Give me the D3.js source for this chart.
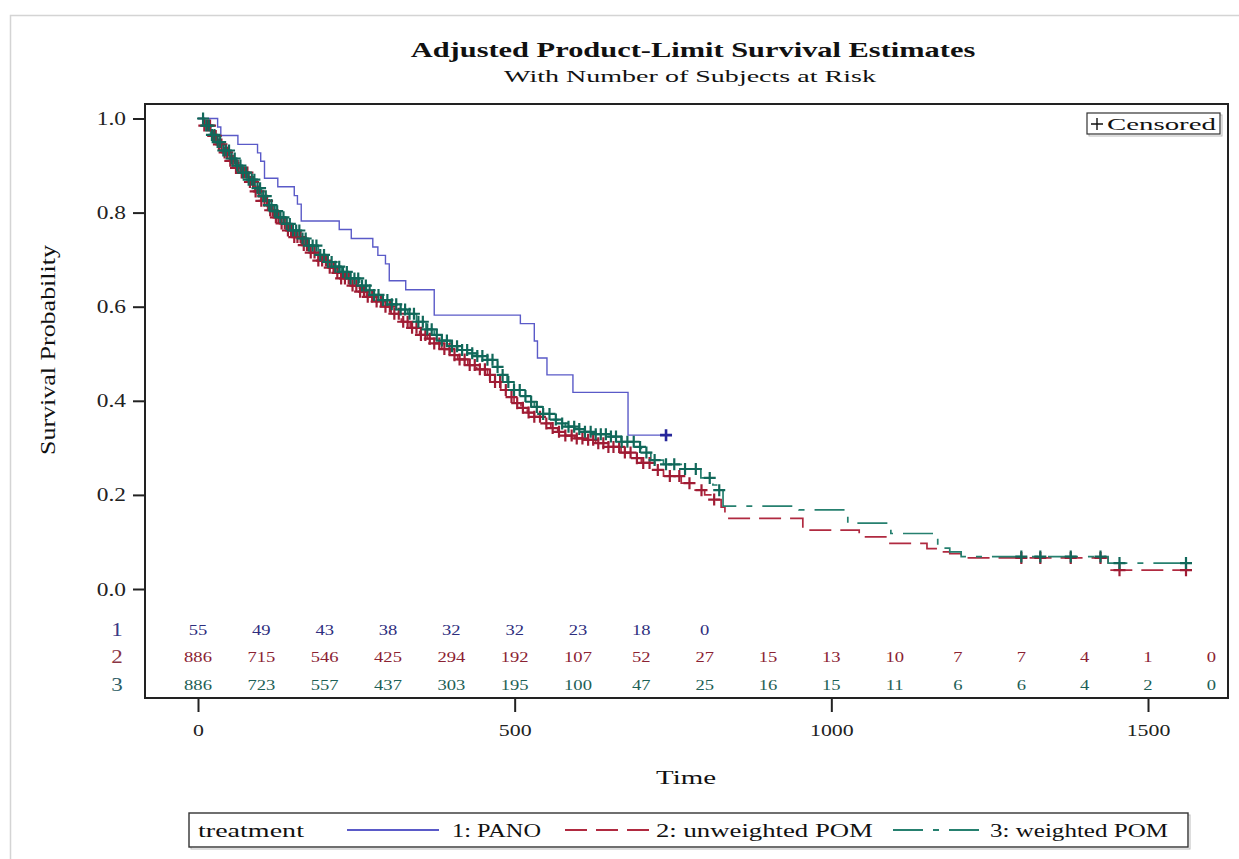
<!DOCTYPE html>
<html>
<head>
<meta charset="utf-8">
<script src="https://cdn.jsdelivr.net/npm/d3@7"></script>
<style>
  body { margin: 0; background: #fff; }
  svg text { font-family: "Liberation Serif", "Times New Roman", serif; }
</style>
</head>
<body>
<div id="container"></div>
<script>
/* CONSTANTS AND GLOBALS */
const width = 1239, height = 859;
const frame = { left: 145, right: 1228, top: 104, bottom: 698 };
const sx = 1.28; // SAS picture is stretched sideways

/* DATA */
// 1: PANO
const panoTime = [0, 31, 36, 63, 94, 99, 105, 126, 152, 157, 163, 223, 242, 276, 284, 296, 302, 328, 373, 509, 531, 536, 551, 592, 679];
const panoSurv = [1, .982, .964, .945, .927, .909, .873, .855, .836, .818, .782, .764, .745, .727, .709, .691, .655, .636, .582, .564, .527, .491, .455, .418, .327];
const panoCensor = [739];

// 2: unweighted POM
const unwTime = [0, 10, 20, 30, 40, 50, 60, 68, 80, 90, 100, 110, 120, 130, 140, 150, 163, 175, 190, 205, 215, 226, 240, 255, 266, 278, 290, 305, 321, 335, 350, 362, 373, 385, 398, 410, 426, 440, 457, 467, 478, 488, 499, 510, 520, 531, 545, 557, 568, 580, 595, 610, 628, 647, 668, 689, 700, 715, 735, 763, 780, 800, 815, 826, 832, 955, 1044, 1086, 1151, 1169, 1187, 1205, 1437];
const unwSurv = [1, .985, .963, .945, .928, .91, .895, .885, .865, .845, .825, .805, .79, .777, .762, .748, .731, .715, .698, .683, .672, .66, .645, .632, .621, .611, .6, .585, .568, .555, .54, .532, .522, .51, .497, .488, .476, .467, .455, .44, .423, .408, .395, .385, .375, .366, .352, .342, .334, .326, .32, .317, .31, .302, .29, .278, .268, .253, .24, .225, .21, .2, .19, .174, .15, .125, .111, .097, .086, .079, .075, .066, .04];
const unwCensor = [10, 15, 19, 24, 28, 33, 37, 42, 46, 51, 55, 60, 64, 69, 73, 78, 82, 87, 91, 96, 100, 105, 109, 114, 118, 123, 127, 132, 137, 142, 147, 152, 157, 162, 167, 172, 178, 184, 190, 196, 202, 208, 214, 220, 226, 232, 238, 244, 250, 256, 262, 268, 275, 282, 289, 296, 303, 310, 317, 324, 331, 338, 345, 352, 359, 366, 373, 381, 389, 397, 405, 413, 421, 429, 437, 445, 453, 461, 469, 477, 486, 495, 504, 513, 522, 531, 540, 550, 560, 570, 580, 590, 598, 607, 616, 624, 632, 640, 648, 656, 665, 674, 683, 693, 703, 713, 726, 745, 760, 776, 795, 815, 1300, 1330, 1378, 1425, 1455, 1560];

// 3: weighted POM
const wTime = [0, 10, 20, 30, 40, 50, 60, 70, 80, 90, 100, 110, 120, 130, 140, 150, 163, 175, 190, 205, 215, 226, 240, 255, 266, 278, 290, 305, 320, 331, 345, 360, 373, 385, 398, 410, 426, 440, 457, 467, 478, 488, 499, 510, 520, 531, 545, 557, 568, 580, 595, 610, 628, 647, 668, 689, 700, 715, 735, 763, 794, 813, 823, 829, 949, 1026, 1094, 1168, 1187, 1205, 1437];
const wSurv = [1, .985, .965, .95, .932, .915, .9, .885, .87, .852, .835, .816, .803, .79, .776, .762, .745, .73, .71, .695, .685, .674, .66, .645, .635, .625, .614, .605, .594, .585, .568, .552, .54, .528, .516, .508, .501, .495, .487, .472, .455, .44, .423, .41, .398, .387, .372, .36, .352, .345, .34, .334, .329, .324, .313, .302, .29, .274, .265, .255, .236, .221, .21, .176, .168, .14, .118, .087, .079, .069, .055];
const wCensor = [8, 13, 17, 22, 26, 31, 35, 40, 44, 49, 53, 58, 62, 67, 71, 76, 80, 85, 89, 94, 98, 103, 107, 112, 116, 121, 125, 130, 135, 140, 145, 150, 155, 160, 165, 170, 175, 181, 187, 193, 199, 205, 211, 217, 223, 229, 235, 241, 247, 253, 259, 265, 271, 278, 285, 292, 299, 306, 313, 320, 327, 334, 341, 348, 355, 362, 369, 377, 385, 393, 401, 409, 417, 425, 433, 441, 449, 457, 465, 473, 481, 490, 499, 508, 517, 526, 535, 545, 555, 565, 575, 585, 594, 602, 611, 620, 628, 636, 644, 652, 660, 669, 678, 688, 698, 708, 721, 739, 752, 769, 786, 808, 823, 1300, 1330, 1378, 1425, 1455, 1560];

// number at risk
const riskTimes = [0, 100, 200, 300, 400, 500, 600, 700, 800, 900, 1000, 1100, 1200, 1300, 1400, 1500, 1600];
const risk1 = [55, 49, 43, 38, 32, 32, 23, 18, 0];
const risk2 = [886, 715, 546, 425, 294, 192, 107, 52, 27, 15, 13, 10, 7, 7, 4, 1, 0];
const risk3 = [886, 723, 557, 437, 303, 195, 100, 47, 25, 16, 15, 11, 6, 6, 4, 2, 0];

const yTicks = [0, 0.2, 0.4, 0.6, 0.8, 1.0];
const xTicks = [0, 500, 1000, 1500];
const groupNames = ["1: PANO", "2: unweighted POM", "3: weighted POM"];

/* STYLES */
const lineColors = ["#5a5ac8", "#b02a40", "#26806f"];
const markColors = ["#26269a", "#a01c34", "#11685a"];
const riskColors = ["#2e2e7e", "#8b2232", "#1d5f56"];
const rowLabelColors = ["#3a3a84", "#8a3545", "#2d5e66"];
const dashes = [null, "22,9", "30,10,6,10"];

/* SCALES */
const x = d3.scaleLinear().domain([0, 1500]).range([198, 1148]);
const y = d3.scaleLinear().domain([0, 1]).range([589, 118.5]);

const svg = d3.select("#container")
  .append("svg")
  .attr("width", width)
  .attr("height", height);

// text helper: stretched sideways, or fitted to a width
function label(txt, px, py, size, opts = {}) {
  const t = svg.append("text")
    .attr("text-anchor", opts.anchor || "start")
    .attr("font-size", size)
    .attr("font-weight", opts.bold ? "bold" : null)
    .attr("fill", opts.fill || "#111")
    .text(txt);
  const k = opts.w ? opts.w / t.node().getComputedTextLength() : sx;
  t.attr("transform", `translate(${px},${py}) scale(${k},1)`);
  return t;
}

// page border
svg.append("rect")
  .attr("x", 10.5).attr("y", 15.5)
  .attr("width", 1250).attr("height", 900)
  .attr("fill", "none").attr("stroke", "#d4d4d4").attr("stroke-width", 1.5);

// titles
label("Adjusted Product-Limit Survival Estimates", 693, 57, 21, { anchor: "middle", bold: true, w: 565 });
label("With Number of Subjects at Risk", 690, 82, 16.5, { anchor: "middle", w: 372 });

// plot frame
svg.append("rect")
  .attr("x", frame.left).attr("y", frame.top)
  .attr("width", frame.right - frame.left).attr("height", frame.bottom - frame.top)
  .attr("fill", "none").attr("stroke", "#222").attr("stroke-width", 2);

svg.append("clipPath").attr("id", "clip")
  .append("rect")
  .attr("x", frame.left).attr("y", frame.top)
  .attr("width", frame.right - frame.left).attr("height", frame.bottom - frame.top);

// step look-up for censor marks
function survAt(times, surv, t) {
  const i = d3.bisectRight(times, t) - 1;
  return surv[Math.max(0, i)];
}

const groups = [
  { time: panoTime, surv: panoSurv, censor: panoCensor },
  { time: unwTime, surv: unwSurv, censor: unwCensor },
  { time: wTime, surv: wSurv, censor: wCensor }
];

const line = d3.line()
  .x(d => x(d[0]))
  .y(d => y(d[1]))
  .curve(d3.curveStepAfter);

const plot = svg.append("g").attr("clip-path", "url(#clip)");
const drawOrder = [1, 2, 0];

drawOrder.forEach(k => {
  const g = groups[k];
  const pts = g.time.map((t, i) => [t, g.surv[i]]);
  pts.push([d3.max(g.censor), g.surv[g.surv.length - 1]]);
  plot.append("path")
    .datum(pts)
    .attr("d", line)
    .attr("fill", "none")
    .attr("stroke", lineColors[k])
    .attr("stroke-width", k === 0 ? 1.4 : 1.7)
    .attr("stroke-dasharray", dashes[k]);
});

drawOrder.forEach(k => {
  const g = groups[k];
  const s = 6;
  plot.append("g").selectAll("path")
    .data(g.censor)
    .join("path")
    .attr("d", t => {
      const cx = x(t), cy = y(survAt(g.time, g.surv, t));
      return `M${cx - s},${cy}H${cx + s}M${cx},${cy - s}V${cy + s}`;
    })
    .attr("stroke", markColors[k])
    .attr("stroke-width", k === 0 ? 2.6 : 2.2);
});

// censored legend (inset)
svg.append("rect").attr("x", 1089).attr("y", 115).attr("width", 133).attr("height", 21)
  .attr("fill", "none").attr("stroke", "#bbb").attr("stroke-width", 1);
svg.append("rect").attr("x", 1087).attr("y", 113).attr("width", 133).attr("height", 21)
  .attr("fill", "#fff").attr("stroke", "#333").attr("stroke-width", 1.2);
svg.append("path")
  .attr("d", "M1091,124H1103M1097,118V130")
  .attr("stroke", "#111").attr("stroke-width", 1.4);
label("Censored", 1107, 130, 17, { w: 109 });

// number at risk table
const riskRows = [risk1, risk2, risk3];
const rowY = [630, 657, 685];
riskRows.forEach((row, r) => {
  label(String(r + 1), 117, rowY[r] + 6, 18, { anchor: "middle", fill: rowLabelColors[r] });
  row.forEach((v, i) => {
    label(String(v), x(riskTimes[i]), rowY[r] + 5, 14.5, { anchor: "middle", fill: riskColors[r] });
  });
});

// y axis
const yAxis = svg.append("g")
  .attr("transform", `translate(${frame.left},0)`)
  .call(d3.axisLeft(y).tickValues(yTicks).tickFormat(d3.format(".1f")).tickSize(12));
yAxis.select(".domain").remove();
yAxis.selectAll("line").attr("stroke", "#222").attr("stroke-width", 2);
yAxis.selectAll("text")
  .attr("x", null).attr("dy", null)
  .attr("transform", `translate(-19,6) scale(1.3,1)`)
  .attr("font-size", 18).attr("fill", "#222")
  .attr("font-family", "Liberation Serif");

const yLab = svg.append("text")
  .attr("text-anchor", "middle")
  .attr("font-size", 19)
  .attr("fill", "#111")
  .text("Survival Probability");
const yLabK = 210 / yLab.node().getComputedTextLength();
yLab.attr("transform", `translate(55,350) rotate(-90) scale(${yLabK},1.15)`);

// x axis
const xAxis = svg.append("g")
  .attr("transform", `translate(0,${frame.bottom})`)
  .call(d3.axisBottom(x).tickValues(xTicks).tickFormat(d3.format("d")).tickSize(14));
xAxis.select(".domain").remove();
xAxis.selectAll("line").attr("stroke", "#222").attr("stroke-width", 2);
xAxis.selectAll("text")
  .attr("y", null).attr("dy", null)
  .attr("transform", `translate(0,38) scale(1.25,1)`)
  .attr("font-size", 17.5).attr("fill", "#222")
  .attr("font-family", "Liberation Serif");

label("Time", 686, 784, 19.5, { anchor: "middle", w: 60 });

// group legend
svg.append("rect").attr("x", 191).attr("y", 815).attr("width", 999).attr("height", 34)
  .attr("fill", "none").attr("stroke", "#bbb").attr("stroke-width", 1);
svg.append("rect").attr("x", 189).attr("y", 813).attr("width", 999).attr("height", 34)
  .attr("fill", "#fff").attr("stroke", "#333").attr("stroke-width", 1.4);
label("treatment", 198, 837, 19, { w: 106 });
const legendSwatch = [[347, 439], [565, 649], [893, 979]];
const legendText = [452, 656, 990];
const legendWidth = [89, 217, 178];
groups.forEach((g, k) => {
  svg.append("line")
    .attr("x1", legendSwatch[k][0]).attr("x2", legendSwatch[k][1])
    .attr("y1", 830).attr("y2", 830)
    .attr("stroke", lineColors[k]).attr("stroke-width", 2)
    .attr("stroke-dasharray", dashes[k]);
  label(groupNames[k], legendText[k], 837, 19, { w: legendWidth[k] });
});
</script>
</body>
</html>
